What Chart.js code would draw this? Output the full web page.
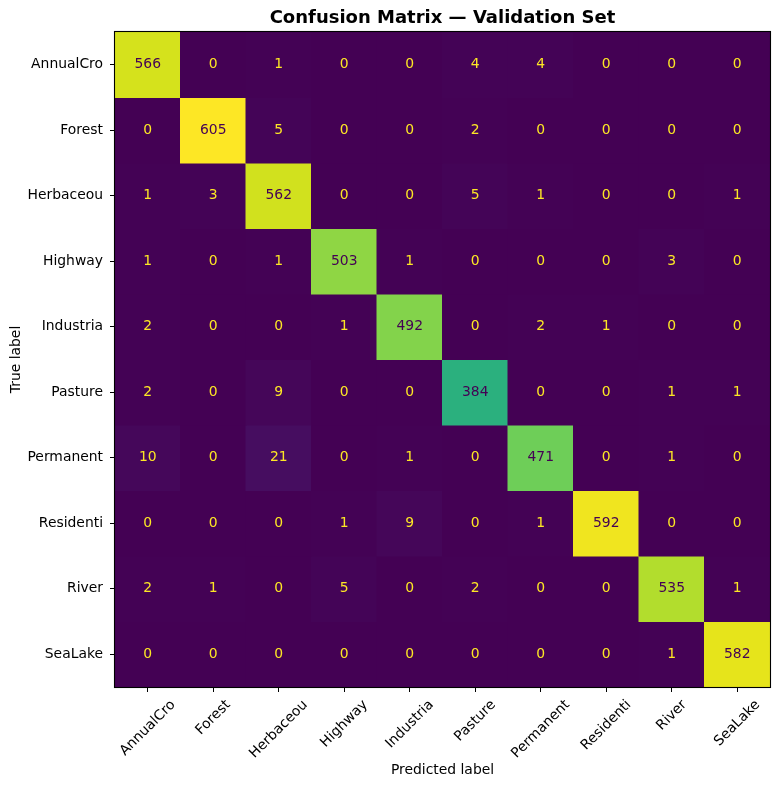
<!DOCTYPE html>
<html>
<head>
<meta charset="utf-8">
<script src="https://cdn.jsdelivr.net/npm/chart.js@4.4.0/dist/chart.umd.min.js"></script>
<style>
  html, body { margin: 0; padding: 0; background: #fff; }
  #wrap { width: 779px; height: 790px; }
</style>
</head>
<body>
<div id="wrap"><canvas id="cm" width="779" height="790"></canvas></div>
<script>
// class names, used for both true rows and predicted columns
var classNames = ["AnnualCro", "Forest", "Herbaceou", "Highway", "Industria",
                  "Pasture", "Permanent", "Residenti", "River", "SeaLake"];

// one row of counts per true label
var rowAnnualCro = [566, 0, 1, 0, 0, 4, 4, 0, 0, 0];
var rowForest    = [0, 605, 5, 0, 0, 2, 0, 0, 0, 0];
var rowHerbaceou = [1, 3, 562, 0, 0, 5, 1, 0, 0, 1];
var rowHighway   = [1, 0, 1, 503, 1, 0, 0, 0, 3, 0];
var rowIndustria = [2, 0, 0, 1, 492, 0, 2, 1, 0, 0];
var rowPasture   = [2, 0, 9, 0, 0, 384, 0, 0, 1, 1];
var rowPermanent = [10, 0, 21, 0, 1, 0, 471, 0, 1, 0];
var rowResidenti = [0, 0, 0, 1, 9, 0, 1, 592, 0, 0];
var rowRiver     = [2, 1, 0, 5, 0, 2, 0, 0, 535, 1];
var rowSeaLake   = [0, 0, 0, 0, 0, 0, 0, 0, 1, 582];

var counts = [rowAnnualCro, rowForest, rowHerbaceou, rowHighway, rowIndustria,
              rowPasture, rowPermanent, rowResidenti, rowRiver, rowSeaLake];

var FONT = '"DejaVu Sans", sans-serif';

// viridis colormap, sampled every 0.05
var viridisStops = ["#440154", "#471365", "#482475", "#463480", "#414487", "#3b528b",
  "#355f8d", "#2f6c8e", "#2a788e", "#25848e", "#21918c", "#1e9c89", "#22a884",
  "#2fb47c", "#44bf70", "#5ec962", "#7ad151", "#9bd93c", "#bddf26", "#dfe318", "#fde725"];

function hexToRgb(h) {
  return [parseInt(h.slice(1, 3), 16), parseInt(h.slice(3, 5), 16), parseInt(h.slice(5, 7), 16)];
}

function viridis(t) {
  t = Math.max(0, Math.min(1, t));
  var pos = t * (viridisStops.length - 1);
  var i = Math.min(Math.floor(pos), viridisStops.length - 2);
  var f = pos - i;
  var a = hexToRgb(viridisStops[i]), b = hexToRgb(viridisStops[i + 1]);
  var c = a.map(function(v, k) { return Math.round(v + (b[k] - v) * f); });
  return "rgb(" + c.join(",") + ")";
}

var allValues = [].concat.apply([], counts);
var vmin = Math.min.apply(null, allValues);
var vmax = Math.max.apply(null, allValues);
var thresh = (vmin + vmax) / 2;

// each true-label row is a dataset of floating bars spanning [r, r+1]
var datasets = counts.map(function(row, r) {
  return {
    label: classNames[r],
    data: row.map(function() { return [r, r + 1]; }),
    backgroundColor: row.map(function(v) { return viridis((v - vmin) / (vmax - vmin)); }),
    borderWidth: 0,
    barPercentage: 1,
    categoryPercentage: 1,
    grouped: false,
    inflateAmount: 0.5
  };
});

var matrixExtras = {
  id: 'matrixExtras',
  afterDatasetsDraw: function(chart) {
    var ctx = chart.ctx, xs = chart.scales.x, ys = chart.scales.y;
    ctx.save();
    ctx.font = '13.9px ' + FONT;
    ctx.textAlign = 'center';
    ctx.textBaseline = 'middle';
    counts.forEach(function(row, r) {
      row.forEach(function(v, c) {
        ctx.fillStyle = v > thresh ? viridis(0) : viridis(1);
        ctx.fillText(String(v), xs.getPixelForValue(c), ys.getPixelForValue(r + 0.5));
      });
    });
    ctx.restore();
  },
  afterDraw: function(chart) {
    var ctx = chart.ctx, area = chart.chartArea, xs = chart.scales.x;
    ctx.save();
    // frame
    ctx.strokeStyle = '#000';
    ctx.lineWidth = 1.1;
    ctx.strokeRect(area.left - 0.5, area.top - 0.5, area.right - area.left + 1, area.bottom - area.top + 1);

    // title, centred over the plot area
    ctx.fillStyle = '#000';
    ctx.font = 'bold 18px ' + FONT;
    ctx.textAlign = 'center';
    ctx.textBaseline = 'middle';
    ctx.fillText('Confusion Matrix \u2014 Validation Set', (area.left + area.right) / 2, 18);

    // rotated x tick labels, centred under each tick
    ctx.font = '13.9px ' + FONT;
    classNames.forEach(function(name, i) {
      var w = ctx.measureText(name).width;
      var half = (w + 16) * Math.SQRT1_2 / 2;
      ctx.save();
      ctx.translate(xs.getPixelForValue(i), area.bottom + 10 + half);
      ctx.rotate(-Math.PI / 4);
      ctx.fillText(name, 0, 0);
      ctx.restore();
    });
    ctx.restore();
  }
};

new Chart(document.getElementById('cm'), {
  type: 'bar',
  data: { labels: classNames, datasets: datasets },
  options: {
    responsive: false,
    animation: false,
    layout: { padding: { top: 32, right: 9, left: 0, bottom: 0 } },
    plugins: {
      legend: { display: false },
      tooltip: { enabled: false },
      title: { display: false }
    },
    scales: {
      x: {
        type: 'category',
        offset: true,
        grid: { display: true, drawOnChartArea: false, drawTicks: true, tickLength: 5, color: '#000', offset: false },
        border: { display: false },
        ticks: { display: false },
        title: { display: true, text: 'Predicted label', color: '#000',
                 font: { family: FONT, size: 13.9 }, padding: { top: 0, bottom: 11 } },
        afterFit: function(s) { s.height = 103; }
      },
      y: {
        type: 'linear',
        min: 0,
        max: 10,
        reverse: true,
        afterBuildTicks: function(s) {
          s.ticks = classNames.map(function(_, i) { return { value: i + 0.5 }; });
        },
        grid: { display: true, drawOnChartArea: false, drawTicks: true, tickLength: 5, color: '#000' },
        border: { display: false },
        ticks: {
          autoSkip: false,
          padding: 7,
          color: '#000',
          font: { family: FONT, size: 13.9 },
          callback: function(v, i) { return classNames[i]; }
        },
        title: { display: true, text: 'True label', color: '#000',
                 font: { family: FONT, size: 13.9 }, padding: { top: 8, bottom: 0 } },
        afterFit: function(s) { s.width = 115; }
      }
    }
  },
  plugins: [matrixExtras]
});
</script>
</body>
</html>
